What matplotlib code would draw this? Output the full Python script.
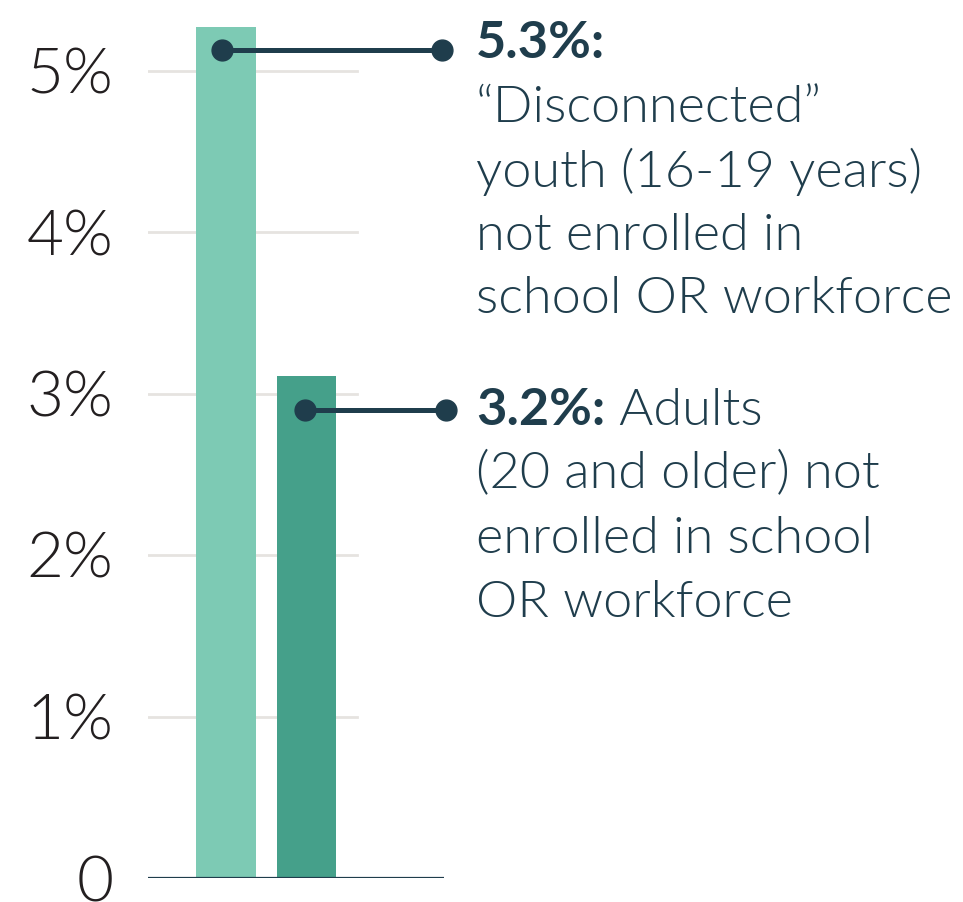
import matplotlib
matplotlib.use("Agg")
import matplotlib.pyplot as plt

# ---- data ----
categories = ["Youth 16-19", "Adults 20+"]
values = [5.27, 3.11]
bar_colors = ["#7dcab4", "#45a08a"]
yticks = [0, 1, 2, 3, 4, 5]
ytick_labels = ["0", "1%", "2%", "3%", "4%", "5%"]
callout_y = [5.13, 2.90]
callout_bold = ["5.3%:", "3.2%:"]
callout_lines = [
    ["", "\u201cDisconnected\u201d", "youth (16-19 years)", "not enrolled in", "school OR workforce"],
    [" Adults", "(20 and older) not", "enrolled in school", "OR workforce"],
]

W, H, DPI = 963, 902, 100
fig = plt.figure(figsize=(W / DPI, H / DPI), dpi=DPI)
fig.patch.set_facecolor("white")

ax_left, ax_right = 148.3, 443.7
ax_bottom_px, ax_top_px = 878, 0
ax = fig.add_axes([ax_left / W, (H - ax_bottom_px) / H,
                   (ax_right - ax_left) / W, (ax_bottom_px - ax_top_px) / H])
ax.set_facecolor("none")

unit = 80.3
xl = -(226 - ax_left) / unit
ax.set_xlim(xl, xl + (ax_right - ax_left) / unit)
ax.set_ylim(0, 878 / 161.5)

xs = list(range(len(categories)))
ax.bar(xs, values, width=0.742, color=bar_colors, zorder=2)

for t in yticks[1:]:
    ax.axhline(t, xmin=0, xmax=208.7 / (ax_right - ax_left), color="#e6e3e0", lw=2.0, zorder=1)
ax.axhline(0, color="#1f3d4c", lw=1.6, zorder=3)

for s in ax.spines.values():
    s.set_visible(False)
ax.set_xticks([])
ax.set_yticks(yticks)
ax.set_yticklabels(ytick_labels)
ax.tick_params(axis="y", length=0, pad=25, labelsize=46, labelcolor="#231f20")
for lab in ax.get_yticklabels():
    lab.set_fontfamily("Lato")
    lab.set_fontweight(300)

navy = "#1f3d4c"
starts = [-0.05, 0.984]
ends = [2.686, 2.744]
for i in range(len(categories)):
    ax.plot([starts[i], ends[i]], [callout_y[i], callout_y[i]], color=navy, lw=3.6,
            marker="o", markersize=15, solid_capstyle="butt", clip_on=False, zorder=4)

# callout texts
text_x = 476 / W
baselines = [[58.3, 121.7, 186.7, 250, 313.3], [425, 488.3, 552.7, 616.7]]
fs = 37.6
fig.canvas.draw()
renderer = fig.canvas.get_renderer()
for i in range(2):
    b = fig.text(text_x, (H - baselines[i][0]) / H, callout_bold[i], fontsize=fs,
                 fontfamily="Lato", fontweight="bold", color=navy, va="baseline", ha="left")
    ext = b.get_window_extent(renderer=renderer)
    for j, line in enumerate(callout_lines[i]):
        if j == 0:
            if line:
                fig.text(ext.x1 / W, (H - baselines[i][0]) / H, line, fontsize=fs,
                         fontfamily="Lato", fontweight=300, color=navy,
                         va="baseline", ha="left")
        else:
            fig.text(text_x, (H - baselines[i][j]) / H, line, fontsize=fs,
                     fontfamily="Lato", fontweight=300, color=navy,
                     va="baseline", ha="left")

fig.savefig("out.png", dpi=DPI, facecolor="white")
